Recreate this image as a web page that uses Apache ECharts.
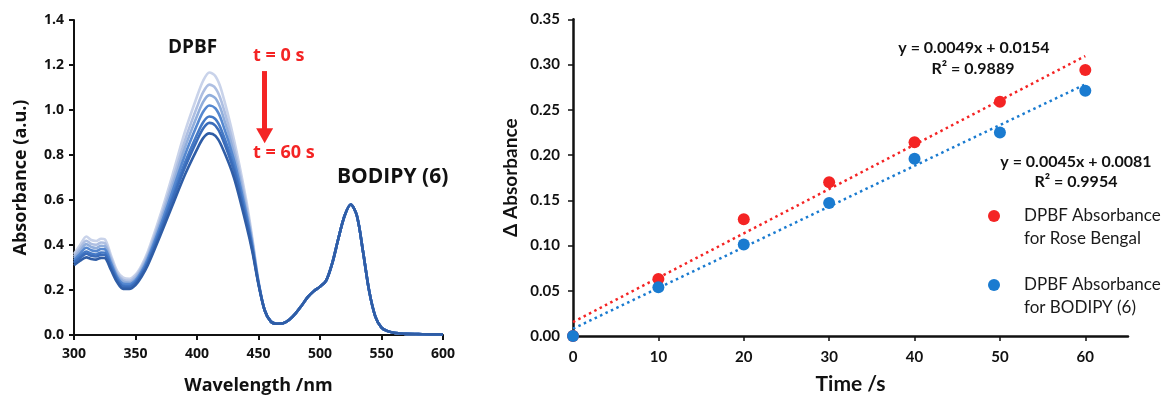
<!DOCTYPE html>
<html>
<head>
<meta charset="utf-8">
<script src="https://cdn.jsdelivr.net/npm/echarts@6/dist/echarts.min.js"></script>
<style>
  html, body { margin: 0; padding: 0; background: #fff; }
  #chart { width: 1165px; height: 400px; }
</style>
</head>
<body>
<div id="chart"></div>
<script>
// ---- UV-vis spectra of DPBF + BODIPY (6) under irradiation ----
// Wavelengths (nm) where the spectra differ with time
const headWl = [300, 305, 310, 314, 318, 322, 325, 330, 335, 340, 345, 350, 355, 360, 370, 380, 390, 400, 405, 410, 415, 420, 430, 440, 445, 450];
// Absorbance over headWl, one array per irradiation time
const abs0s  = [0.360, 0.400, 0.438, 0.422, 0.418, 0.428, 0.426, 0.355, 0.285, 0.255, 0.250, 0.268, 0.310, 0.370, 0.530, 0.710, 0.900, 1.060, 1.130, 1.167, 1.150, 1.085, 0.870, 0.600, 0.430, 0.240];
const abs10s = [0.350, 0.386, 0.419, 0.405, 0.401, 0.411, 0.409, 0.342, 0.275, 0.245, 0.241, 0.259, 0.300, 0.358, 0.512, 0.683, 0.862, 1.013, 1.079, 1.113, 1.097, 1.036, 0.836, 0.578, 0.418, 0.237];
const abs20s = [0.342, 0.374, 0.404, 0.391, 0.387, 0.397, 0.395, 0.331, 0.267, 0.237, 0.233, 0.251, 0.292, 0.348, 0.497, 0.660, 0.830, 0.973, 1.036, 1.066, 1.052, 0.994, 0.807, 0.559, 0.408, 0.234];
const abs30s = [0.333, 0.362, 0.388, 0.377, 0.373, 0.382, 0.381, 0.320, 0.258, 0.228, 0.226, 0.243, 0.283, 0.338, 0.481, 0.637, 0.797, 0.933, 0.992, 1.020, 1.007, 0.953, 0.778, 0.541, 0.398, 0.232];
const abs40s = [0.324, 0.350, 0.371, 0.362, 0.358, 0.367, 0.366, 0.308, 0.249, 0.219, 0.218, 0.235, 0.274, 0.327, 0.465, 0.613, 0.763, 0.891, 0.946, 0.971, 0.959, 0.909, 0.748, 0.521, 0.387, 0.229];
const abs50s = [0.319, 0.342, 0.361, 0.352, 0.349, 0.357, 0.356, 0.301, 0.244, 0.214, 0.213, 0.230, 0.269, 0.320, 0.455, 0.598, 0.742, 0.865, 0.918, 0.943, 0.930, 0.882, 0.729, 0.509, 0.380, 0.228];
const abs60s = [0.310, 0.330, 0.345, 0.338, 0.335, 0.343, 0.342, 0.290, 0.235, 0.205, 0.205, 0.222, 0.260, 0.310, 0.440, 0.575, 0.710, 0.825, 0.875, 0.896, 0.885, 0.840, 0.700, 0.490, 0.370, 0.225];
// Beyond 450 nm all spectra coincide (BODIPY band)
const tailWl  = [455, 460, 465, 470, 475, 480, 485, 490, 495, 500, 505, 510, 515, 520, 525, 530, 535, 540, 545, 550, 555, 560, 565, 570, 580, 590, 600];
const tailAbs = [0.110, 0.060, 0.050, 0.052, 0.068, 0.095, 0.130, 0.168, 0.195, 0.215, 0.242, 0.320, 0.430, 0.530, 0.580, 0.530, 0.370, 0.195, 0.082, 0.033, 0.017, 0.010, 0.007, 0.005, 0.004, 0.003, 0.003];
const spectraTimes = ['0 s', '10 s', '20 s', '30 s', '40 s', '50 s', '60 s'];
const spectraHeads = [abs0s, abs10s, abs20s, abs30s, abs40s, abs50s, abs60s];
const spectraColors = ['#c9d3ea', '#aebfe2', '#91aedc', '#5688d0', '#4479c6', '#3a6cba', '#2f5da6'];

// ---- Δ absorbance vs time ----
const timeS = [0, 10, 20, 30, 40, 50, 60];
const dAbsRoseBengal = [0, 0.063, 0.129, 0.170, 0.214, 0.259, 0.294];
const dAbsBodipy     = [0, 0.054, 0.101, 0.147, 0.196, 0.225, 0.271];
// Linear fits
const fitRoseBengal = { slope: 0.0049, intercept: 0.0154, r2: 0.9889 };
const fitBodipy     = { slope: 0.0045, intercept: 0.0081, r2: 0.9954 };
const fitRange = [0, 60];

const RED = '#f42424';
const BLUE = '#1a7bd0';
const INK = '#111';
const LEFT_FONT = '"Open Sans", "DejaVu Sans", sans-serif';
const RIGHT_FONT = 'Lato, "Open Sans", sans-serif';

function zip(xs, ys) { return xs.map((x, i) => [x, ys[i]]); }
function fitLine(fit) { return fitRange.map(x => [x, fit.intercept + fit.slope * x]); }

const spectraSeries = spectraHeads.map((head, i) => {
  const s = {
    name: 't = ' + spectraTimes[i],
    type: 'line',
    xAxisIndex: 0, yAxisIndex: 0,
    data: zip(headWl.concat(tailWl), head.concat(tailAbs)),
    smooth: 0.3,
    showSymbol: false,
    lineStyle: { color: spectraColors[i], width: 2.6 },
    itemStyle: { color: spectraColors[i] },
    silent: true,
    z: 2 + i
  };
  if (i === spectraHeads.length - 1) {
    // arrow showing the decrease of the DPBF band with time
    s.markLine = {
      silent: true,
      symbol: ['none', 'triangle'],
      symbolSize: [17, 15],
      label: { show: false },
      lineStyle: { color: RED, width: 5, type: 'solid' },
      emphasis: { disabled: true },
      data: [[{ coord: [455, 1.173] }, { coord: [455, 0.886] }]]
    };
  }
  return s;
});

const chart = echarts.init(document.getElementById('chart'), null, { renderer: 'canvas' });

const leftAxisCommon = {
  axisLine: { show: true, lineStyle: { color: INK, width: 2 } },
  axisTick: { show: true, inside: false, length: 5, lineStyle: { color: INK, width: 2 } },
  splitLine: { show: false },
  axisLabel: { color: INK, fontFamily: LEFT_FONT, fontWeight: 'bold', fontSize: 14 },
  nameTextStyle: { color: INK, fontFamily: LEFT_FONT, fontWeight: 'bold', fontSize: 18 }
};
const rightAxisCommon = {
  axisLine: { show: true, lineStyle: { color: INK, width: 2.5 } },
  axisTick: { show: true, inside: false, length: 5, lineStyle: { color: INK, width: 1.5 } },
  splitLine: { show: false },
  axisLabel: { color: INK, fontFamily: RIGHT_FONT, fontWeight: 'bold', fontSize: 15 },
  nameTextStyle: { color: INK, fontFamily: RIGHT_FONT, fontWeight: 'bold', fontSize: 20 }
};

const option = {
  animation: false,
  backgroundColor: '#fff',
  grid: [
    { left: 74, right: 722, top: 20, bottom: 62.5, containLabel: false },
    { left: 573, right: 37, top: 19.3, bottom: 59.3, containLabel: false }
  ],
  xAxis: [
    Object.assign({}, leftAxisCommon, {
      gridIndex: 0, type: 'value', min: 300, max: 600, interval: 50,
      name: 'Wavelength /nm', nameLocation: 'middle', nameGap: 42,
      axisLabel: Object.assign({}, leftAxisCommon.axisLabel, { margin: 12 })
    }),
    Object.assign({}, rightAxisCommon, {
      gridIndex: 1, type: 'value', min: 0, max: 65, interval: 10,
      name: 'Time /s', nameLocation: 'middle', nameGap: 38,
      nameTextStyle: Object.assign({}, rightAxisCommon.nameTextStyle, { fontSize: 21 }),
      axisTick: Object.assign({}, rightAxisCommon.axisTick, { customValues: timeS }),
      axisLabel: Object.assign({}, rightAxisCommon.axisLabel, { margin: 14, customValues: timeS })
    })
  ],
  yAxis: [
    Object.assign({}, leftAxisCommon, {
      gridIndex: 0, type: 'value', min: 0, max: 1.4, interval: 0.2,
      name: 'Absorbance (a.u.)', nameLocation: 'middle', nameGap: 44,
      axisLabel: Object.assign({}, leftAxisCommon.axisLabel, { margin: 10, formatter: v => v.toFixed(1) })
    }),
    Object.assign({}, rightAxisCommon, {
      gridIndex: 1, type: 'value', min: 0, max: 0.35, interval: 0.05,
      name: 'Δ Absorbance', nameLocation: 'middle', nameGap: 53,
      nameTextStyle: Object.assign({}, rightAxisCommon.nameTextStyle, { fontSize: 19 }),
      axisLabel: Object.assign({}, rightAxisCommon.axisLabel, { margin: 13, formatter: v => v.toFixed(2) })
    })
  ],
  series: spectraSeries.concat([
    {
      name: 'Fit Rose Bengal', type: 'line', xAxisIndex: 1, yAxisIndex: 1,
      data: fitLine(fitRoseBengal), showSymbol: false, silent: true,
      lineStyle: { color: RED, width: 2.5, type: [2.5, 3.5], cap: 'butt' }, z: 2
    },
    {
      name: 'Fit BODIPY (6)', type: 'line', xAxisIndex: 1, yAxisIndex: 1,
      data: fitLine(fitBodipy), showSymbol: false, silent: true,
      lineStyle: { color: BLUE, width: 2.5, type: [2.5, 3.5], cap: 'butt' }, z: 2
    },
    {
      name: 'DPBF Absorbance for Rose Bengal', type: 'scatter', xAxisIndex: 1, yAxisIndex: 1,
      data: zip(timeS, dAbsRoseBengal), symbol: 'circle', symbolSize: 12,
      itemStyle: { color: RED, opacity: 1 }, z: 3
    },
    {
      name: 'DPBF Absorbance for BODIPY (6)', type: 'scatter', xAxisIndex: 1, yAxisIndex: 1,
      data: zip(timeS, dAbsBodipy), symbol: 'circle', symbolSize: 12,
      itemStyle: { color: BLUE, opacity: 1 }, z: 4
    }
  ]),
  graphic: [
    // spectrum annotations
    { type: 'text', left: 168, top: 38, style: { text: 'DPBF', fill: INK, font: 'bold 19px ' + LEFT_FONT } },
    { type: 'text', left: 253, top: 47, style: { text: 't = 0 s', fill: RED, font: 'bold 18px ' + LEFT_FONT } },
    { type: 'text', left: 253, top: 144, style: { text: 't = 60 s', fill: RED, font: 'bold 18px ' + LEFT_FONT } },
    { type: 'text', left: 337, top: 167, style: { text: 'BODIPY (6)', fill: INK, font: 'bold 21px ' + LEFT_FONT } },
    // fit equations
    { type: 'text', x: 974, y: 48, style: { text: 'y = ' + fitRoseBengal.slope.toFixed(4) + 'x + ' + fitRoseBengal.intercept.toFixed(4), fill: INK, font: 'bold 16px ' + RIGHT_FONT, align: 'center', verticalAlign: 'middle' } },
    { type: 'text', x: 973, y: 69, style: { text: 'R² = ' + fitRoseBengal.r2.toFixed(4), fill: INK, font: 'bold 16px ' + RIGHT_FONT, align: 'center', verticalAlign: 'middle' } },
    { type: 'text', x: 1076, y: 162, style: { text: 'y = ' + fitBodipy.slope.toFixed(4) + 'x + ' + fitBodipy.intercept.toFixed(4), fill: INK, font: 'bold 16px ' + RIGHT_FONT, align: 'center', verticalAlign: 'middle' } },
    { type: 'text', x: 1076, y: 182, style: { text: 'R² = ' + fitBodipy.r2.toFixed(4), fill: INK, font: 'bold 16px ' + RIGHT_FONT, align: 'center', verticalAlign: 'middle' } },
    // legend
    { type: 'circle', shape: { cx: 994, cy: 216, r: 6 }, style: { fill: RED } },
    { type: 'text', x: 1024, y: 216, style: { text: 'DPBF Absorbance', fill: '#1a1a1a', font: '17px ' + RIGHT_FONT, verticalAlign: 'middle' } },
    { type: 'text', x: 1024, y: 239, style: { text: 'for Rose Bengal', fill: '#1a1a1a', font: '17px ' + RIGHT_FONT, verticalAlign: 'middle' } },
    { type: 'circle', shape: { cx: 994, cy: 285, r: 6 }, style: { fill: BLUE } },
    { type: 'text', x: 1024, y: 285, style: { text: 'DPBF Absorbance', fill: '#1a1a1a', font: '17px ' + RIGHT_FONT, verticalAlign: 'middle' } },
    { type: 'text', x: 1024, y: 308, style: { text: 'for BODIPY (6)', fill: '#1a1a1a', font: '17px ' + RIGHT_FONT, verticalAlign: 'middle' } }
  ]
};

chart.setOption(option);
</script>
</body>
</html>
